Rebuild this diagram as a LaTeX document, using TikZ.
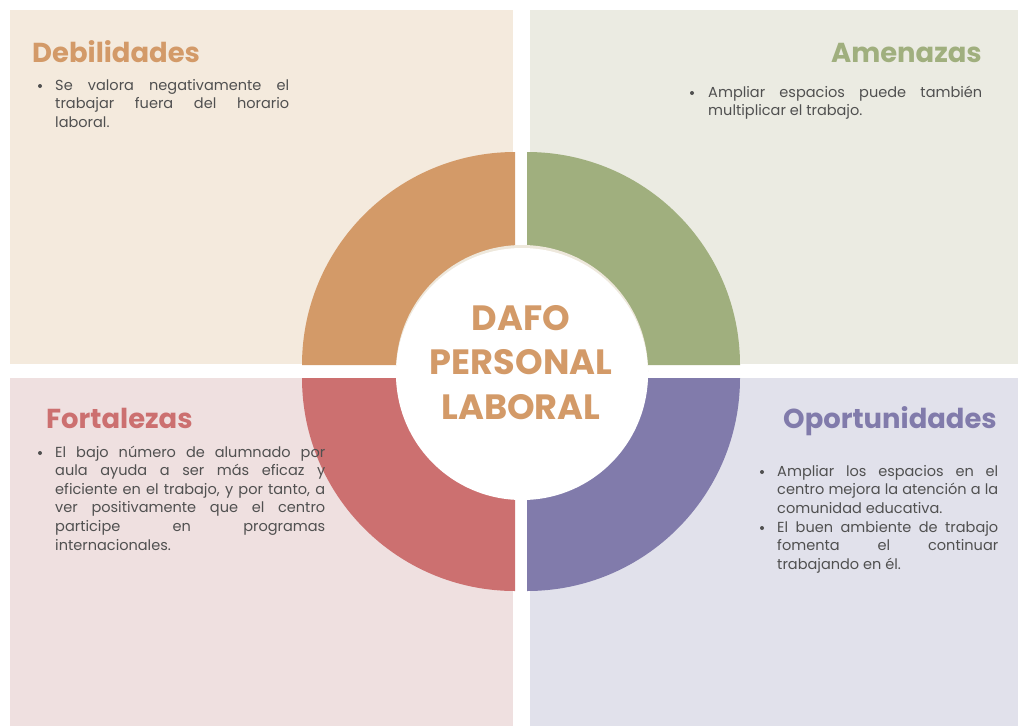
\documentclass[tikz,border=0pt]{standalone}
\usepackage{fontspec}
\setmainfont{Poppins}
\usepackage{tikz}
\usetikzlibrary{positioning}
\definecolor{debilbg}{HTML}{F4EADD}
\definecolor{amenbg}{HTML}{EBEBE2}
\definecolor{fortbg}{HTML}{EFE0E0}
\definecolor{oportbg}{HTML}{E1E1EB}
\definecolor{debilc}{HTML}{D39A68}
\definecolor{amenc}{HTML}{A0AF7E}
\definecolor{fortc}{HTML}{CC7070}
\definecolor{oportc}{HTML}{817BAB}
\definecolor{shadowc}{HTML}{EEE8DC}
\definecolor{textgray}{HTML}{505050}
\newlength\pxu
\setlength\pxu{0.03cm}

\begin{document}
\begin{tikzpicture}[x=0.03cm,y=-0.03cm,
  heading/.style={font=\fontsize{23.4pt}{28pt}\selectfont\bfseries,inner sep=0pt},
  bodytext/.style={font=\fontsize{12.4pt}{15.9pt}\selectfont,text=textgray,
    text width=#1\pxu,align=justify,inner sep=0pt,anchor=base west},
  dot/.style={circle,fill=textgray,inner sep=0pt,minimum size=4\pxu},
  centretitle/.style={font=\fontsize{30pt}{39.7pt}\selectfont\bfseries,text=debilc,
    text width=300\pxu,align=center,inner sep=0pt,anchor=base}]
\fill[white] (0,0) rectangle (1019,726);
\useasboundingbox (0,0) rectangle (1019,726);
\fill[debilbg] (10,10) rectangle (513,364);
\fill[amenbg] (530,10) rectangle (1018,364);
\fill[fortbg] (10,378) rectangle (513,726);
\fill[oportbg] (530,378) rectangle (1018,726);

\fill[debilc] (302,365) arc[start angle=180,end angle=270,radius=213] -- (515,265)
  arc[start angle=270,end angle=180,radius=100] -- cycle;
\fill[amenc] (527,152) arc[start angle=270,end angle=360,radius=213] -- (627,365)
  arc[start angle=0,end angle=-90,radius=100] -- cycle;
\fill[fortc] (515,591) arc[start angle=90,end angle=180,radius=213] -- (415,378)
  arc[start angle=180,end angle=90,radius=100] -- cycle;
\fill[oportc] (740,378) arc[start angle=0,end angle=90,radius=213] -- (527,478)
  arc[start angle=90,end angle=0,radius=100] -- cycle;
\fill[shadowc] (522,371) circle[radius=126];
\fill[white] (522,374) circle[radius=126];

\node[centretitle] (dafo) at (521,330) {DAFO\\[-1.5pt]PERSONAL\\[-1.5pt]LABORAL};

\node[heading,text=debilc,anchor=base west] (debil) at (32,62) {Debilidades};
\node[heading,text=amenc,anchor=base east] (amen) at (982,62) {Amenazas};
\node[heading,text=fortc,anchor=base west] (fort) at (46,428) {Fortalezas};
\node[heading,text=oportc,anchor=base east] (oport) at (997,428) {Oportunidades};

\node[dot] (debildot) at (40,86) {};
\node[bodytext=234] (debiltxt) at (55,90) {Se valora negativamente el\linebreak
  trabajar fuera del horario\linebreak laboral.};
\node[dot] (amendot) at (692,93) {};
\node[bodytext=274] (amentxt) at (708,97) {Ampliar espacios puede también\linebreak
  multiplicar el trabajo.};
\node[dot] (fortdot) at (40,453) {};
\node[bodytext=270] (forttxt) at (55,457) {El bajo número de alumnado por\linebreak
  aula ayuda a ser más eficaz y\linebreak eficiente en el trabajo, y por tanto, a\linebreak
  ver positivamente que el centro\linebreak participe en programas\linebreak internacionales.};
\node[dot] (oportdot) at (762,472) {};
\node[bodytext=221] (oporttxt) at (777,476) {Ampliar los espacios en el\linebreak
  centro mejora la atención a la\linebreak comunidad educativa.};
\node[dot] (oportdotb) at (762,528) {};
\node[bodytext=221] (oporttxtb) at (777,532) {El buen ambiente de trabajo\linebreak
  fomenta el continuar\linebreak trabajando en él.};
\end{tikzpicture}
\end{document}
